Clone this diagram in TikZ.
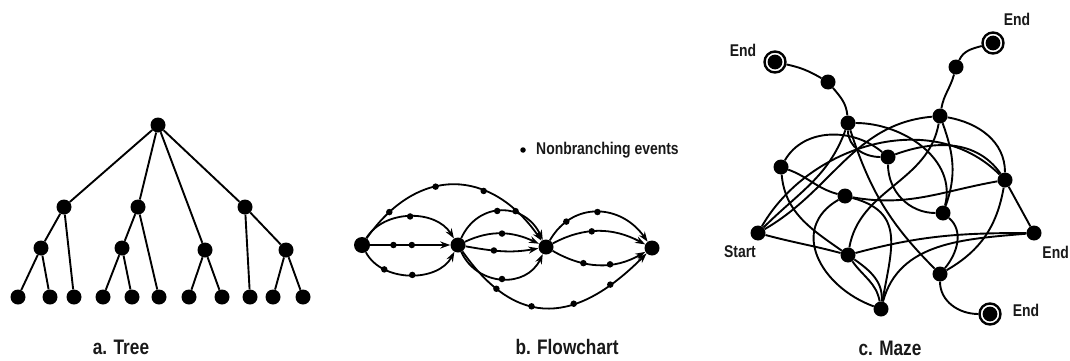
\documentclass[tikz,border=0pt]{standalone}
\usepackage{fontspec}
\newfontfamily\cond{Liberation Sans}[FakeStretch=0.82]
\usetikzlibrary{arrows.meta}
\begin{document}
\begin{tikzpicture}[x=1pt,y=1pt,
  bigdot/.style={circle,fill=black,inner sep=0pt,minimum size=15pt},
  smalldot/.style={circle,fill=black,inner sep=0pt,minimum size=6.5pt},
  endnode/.style={circle,draw=black,line width=2.4pt,fill=white,inner sep=0pt,minimum size=21pt,
     path picture={\fill[black] (path picture bounding box.center) circle (7.4pt);}},
  ln/.style={line width=1.9pt,black},
  arr/.style={line width=1.8pt,black,-{Stealth[length=10pt,width=7pt]}},
  lab/.style={font=\cond\bfseries\fontsize{17}{17}\selectfont,text=black!90,inner sep=0pt},
  captxt/.style={font=\cond\bfseries\fontsize{21}{21}\selectfont,text=black!90,inner sep=0pt}]
\useasboundingbox (0,0) rectangle (1070,360);

% ---------------- a. Tree ----------------
\node[bigdot] (r) at (158,235) {};
\node[bigdot] (A) at (64,153) {};
\node[bigdot] (B) at (138,153) {};
\node[bigdot] (C) at (245,153) {};
\node[bigdot] (La) at (41,112) {};
\node[bigdot] (Lb) at (122,112) {};
\node[bigdot] (Lc) at (205,110) {};
\node[bigdot] (Ld) at (286,110) {};
\foreach \i/\x in {1/18,2/50,3/74,4/103,5/132,6/159,7/189,8/222,9/250,10/273,11/303}
  \node[bigdot] (t\i) at (\x,63) {};
\draw[ln] (r) -- (A);
\draw[ln] (r) -- (B);
\draw[ln] (r) -- (Lc);
\draw[ln] (r) -- (C);
\draw[ln] (A) -- (La);
\draw[ln] (A) -- (t3);
\draw[ln] (La) -- (t1);
\draw[ln] (La) -- (t2);
\draw[ln] (B) -- (Lb);
\draw[ln] (B) -- (t6);
\draw[ln] (Lb) -- (t4);
\draw[ln] (Lb) -- (t5);
\draw[ln] (Lc) -- (t7);
\draw[ln] (Lc) -- (t8);
\draw[ln] (C) -- (t9);
\draw[ln] (C) -- (Ld);
\draw[ln] (Ld) -- (t10);
\draw[ln] (Ld) -- (t11);
\node[captxt] (capa) at (121,13) {a. Tree};

% ---------------- b. Flowchart ----------------
\node[bigdot,minimum size=16pt] (F1) at (362,115) {};
\node[bigdot] (F2) at (458,115) {};
\node[bigdot] (F3) at (546,113) {};
\node[bigdot] (F4) at (652,112) {};
\node[smalldot,minimum size=5.5pt] (leg) at (523,210) {};
\node[lab,anchor=west] (legt) at (536,210) {Nonbranching events};

% F1 -> F2
\draw[arr] (F1) -- node[smalldot,pos=0.29] (a1) {} node[smalldot,pos=0.52] (a2) {} (F2);
\draw[arr] (F1) to[out=58,in=122] node[smalldot,pos=0.5] (a3) {} (F2);
\draw[arr] (F1) to[out=-62,in=-118] node[smalldot,pos=0.25] (a4) {} node[smalldot,pos=0.52] (a5) {} (F2);
% F1 -> F3
\draw[arr] (F1) to[out=55,in=125,looseness=1.3] node[smalldot,pos=0.14] (b1) {} node[smalldot,pos=0.4] (b2) {} node[smalldot,pos=0.66] (b3) {} node[smalldot,pos=0.84] (b4) {} (F3);
% F2 -> F3
\draw[arr] (F2) to[out=65,in=115,looseness=1.3] node[smalldot,pos=0.45] (c1) {} (F3);
\draw[arr] (F2) to[out=25,in=155] node[smalldot,pos=0.5] (c2) {} (F3);
\draw[arr] (F2) to[out=-10,in=-170] node[smalldot,pos=0.38] (c3) {} (F3);
\draw[arr] (F2) to[out=-65,in=-115,looseness=1.2] node[smalldot,pos=0.5] (c4) {} (F3);
% F2 -> F4
\draw[arr] (F2) to[out=-55,in=-135,looseness=1.35] node[smalldot,pos=0.2] (d1) {} node[smalldot,pos=0.4] (d2) {} node[smalldot,pos=0.63] (d3) {} node[smalldot,pos=0.82] (d4) {} (F4);
% F3 -> F4
\draw[arr] (F3) to[out=60,in=125,looseness=1.2] node[smalldot,pos=0.2] (e1) {} node[smalldot,pos=0.5] (e2) {} (F4);
\draw[arr] (F3) to[out=28,in=152] node[smalldot,pos=0.42] (e3) {} (F4);
\draw[arr] (F3) to[out=-30,in=-150] node[smalldot,pos=0.33] (e4) {} node[smalldot,pos=0.62] (e5) {} (F4);
\node[captxt] (capb) at (567,13) {b. Flowchart};

% ---------------- c. Maze ----------------
\node[endnode] (E1) at (775,298) {};
\node[bigdot] (n1) at (828,278) {};
\node[bigdot] (n2) at (848,237) {};
\node[endnode] (E2) at (993,317) {};
\node[bigdot] (n3) at (956,293) {};
\node[bigdot] (n4) at (940,244) {};
\node[bigdot] (n5) at (781,193) {};
\node[bigdot] (n6) at (888,203) {};
\node[bigdot] (n7) at (845,164) {};
\node[bigdot] (n8) at (1005,180) {};
\node[bigdot] (n9) at (943,147) {};
\node[bigdot] (S) at (758,127) {};
\node[bigdot] (n10) at (848,105) {};
\node[bigdot] (n11) at (1034,127) {};
\node[bigdot] (n12) at (940,86) {};
\node[bigdot] (n13) at (881,51) {};
\node[endnode] (E3) at (990,46) {};

\draw[ln] (E1) to[out=-12,in=150] (n1);
\draw[ln] (n1) to[out=-50,in=95] (n2);
\draw[ln] (E2) to[out=195,in=65] (n3);
\draw[ln] (n3) to[out=-105,in=80] (n4);
\draw[ln] (n2) to[out=-90,in=180] (n6);
\draw[ln] (n2) to[out=0,in=75] (n9);
\draw[ln] (n2) to[out=-72,in=135] (n12);
\draw[ln] (S) to[out=45,in=-110] (n2);
\draw[ln] (n5) to[out=60,in=140] (n6);
\draw[ln] (n5) to[out=-20,in=165] (n7);
\draw[ln] (n7) to[out=-10,in=190] (n8);
\draw[ln] (n5) to[out=-85,in=145] (n10);
\draw[ln] (n7) to[out=-150,in=160,looseness=1.3] (n13);
\draw[ln] (n7) to[out=-15,in=80,looseness=1.3] (n13);
\draw[ln] (S) to[out=-15,in=165] (n10);
\draw[ln] (n4) to[out=185,in=30] (S);
\draw[ln] (S) to[out=60,in=135] (n8);
\draw[ln] (n4) to[out=-10,in=90] (n8);
\draw[ln] (n4) to[out=-70,in=70] (n9);
\draw[ln] (n4) to[out=-100,in=80] (n10);
\draw[ln] (n6) to[out=-90,in=180] (n9);
\draw[ln] (n6) to[out=20,in=125] (n8);
\draw[ln] (n9) to[out=-40,in=50] (n12);
\draw[ln] (n8) to[out=-100,in=30] (n12);
\draw[ln] (n8) -- (n11);
\draw[ln] (n10) to[out=15,in=180] (n11);
\draw[ln] (n10) to[out=-35,in=85] (n13);
\draw[ln] (n10) to[out=-55,in=100] (n13);
\draw[ln] (n12) to[out=-90,in=180] (E3);
\draw[ln] (n13) to[out=75,in=185] (n11);

\node[lab] (l1) at (743,310) {End};
\node[lab] (l2) at (1017,341) {End};
\node[lab] (l3) at (740,108) {Start};
\node[lab,anchor=east] (l4) at (1069,108) {End};
\node[lab] (l5) at (1026,50) {End};
\node[captxt] (capc) at (890,12) {c. Maze};
\end{tikzpicture}
\end{document}
